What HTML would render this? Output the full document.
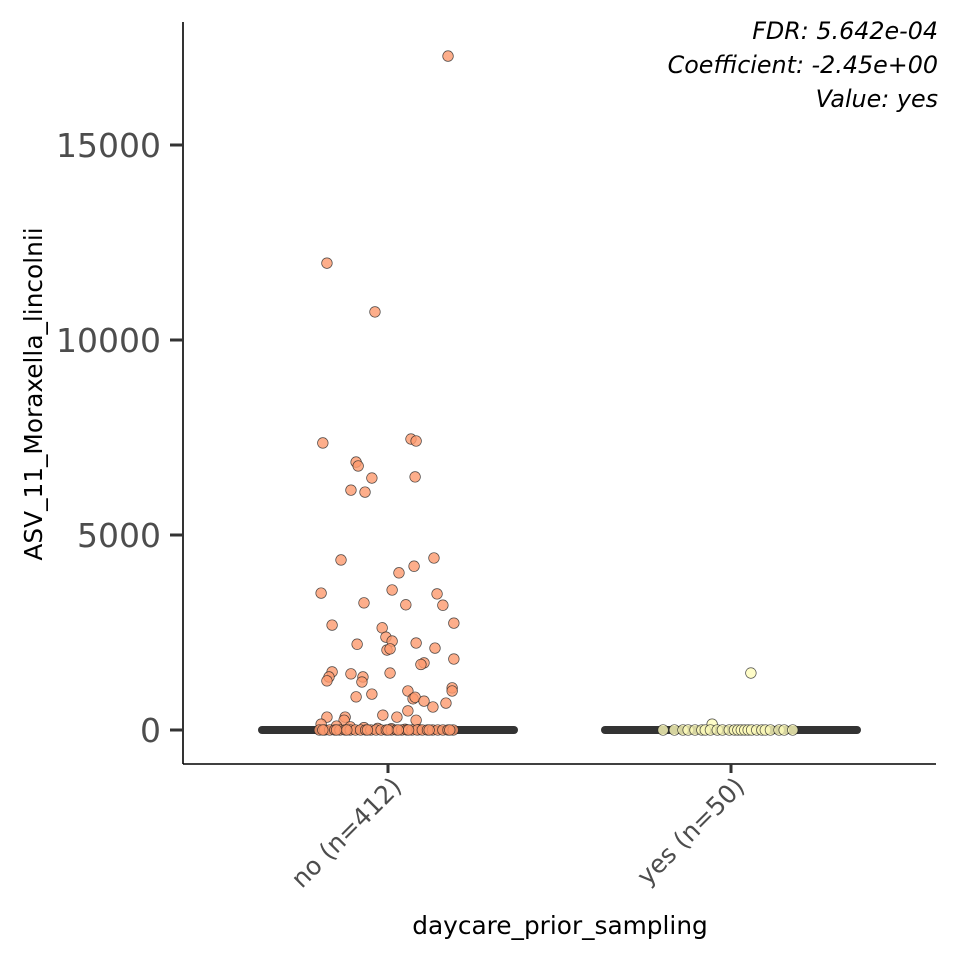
<!DOCTYPE html>
<html><head><meta charset="utf-8"><style>
body{margin:0;background:#fff}
svg text{font-family:"DejaVu Sans","Liberation Sans",sans-serif}
</style></head><body>
<svg id="c" width="960" height="960" xmlns="http://www.w3.org/2000/svg">
<rect width="960" height="960" fill="#fff"/>
<g id="marks"></g>
<line x1="183" y1="22" x2="183" y2="764" stroke="#000" stroke-width="1.6"/>
<line x1="183" y1="764" x2="936" y2="764" stroke="#000" stroke-width="1.6"/>
<g id="axes"></g>
<text x="0" y="0" transform="translate(42,394) rotate(-90)" text-anchor="middle" font-size="24.8" fill="#000">ASV_11_Moraxella_lincolnii</text>
<text x="560" y="934" text-anchor="middle" font-size="24.8" fill="#000">daycare_prior_sampling</text>
<text x="938" y="39" text-anchor="end" font-size="23.8" font-style="italic">FDR: 5.642e-04</text>
<text x="938" y="73" text-anchor="end" font-size="23.8" font-style="italic">Coefficient: -2.45e+00</text>
<text x="938" y="107" text-anchor="end" font-size="23.8" font-style="italic">Value: yes</text>
</svg>
<script>
const categories=["no (n=412)","yes (n=50)"];
const yTicks=[0,5000,10000,15000];
const medians=[0,0];
const noValues=[17280,11970,10720,7360,7460,7410,6870,6770,6460,6490,6150,6100,4360,4410,4030,4200,3510,3490,3260,3210,3200,3590,2690,2740,2620,2380,2200,2230,2280,2050,2080,2100,1720,1680,1820,1490,1360,1260,1360,1440,1230,1460,1000,1080,1000,920,850,800,840,740,590,690,330,330,380,330,490,250,250,
150,100,80,60,40,30,20,10,0,0,0,0,0,0,0,0,0,0,0,0,0,0,0,0,0,0,0,0,0,0,0,0,0,0,0,0,0,0,0,0,0,0,0,0];
const noJitter=[0.175,-0.178,-0.038,-0.19,0.067,0.082,-0.093,-0.087,-0.047,0.079,-0.108,-0.067,-0.137,0.134,0.032,0.076,-0.195,0.143,-0.07,0.052,0.16,0.012,-0.163,0.192,-0.017,-0.006,-0.09,0.082,0.012,-0.003,0.006,0.137,0.105,0.096,0.192,-0.163,-0.172,-0.178,-0.073,-0.108,-0.076,0.006,0.058,0.187,0.187,-0.047,-0.093,0.073,0.079,0.105,0.131,0.169,-0.178,-0.125,-0.015,0.026,0.058,-0.128,0.082,
-0.195,-0.15,-0.11,-0.07,-0.03,0.01,0.05,0.09,-0.2,-0.185,-0.17,-0.155,-0.14,-0.125,-0.11,-0.095,-0.08,-0.065,-0.05,-0.035,-0.02,-0.005,0.01,0.025,0.04,0.055,0.07,0.085,0.1,0.115,0.13,0.145,0.16,0.175,0.19,-0.19,-0.12,-0.06,0.0,0.06,0.12,0.18,-0.15,0.03,0.15];
const yesValues=[1460,150,0,0,0,0,0,0,0,0,0,0,0,0,0,0,0,0,0,0,0,0,0,0,0,0];
const yesJitter=[0.058,-0.055,-0.198,-0.165,-0.14,-0.125,-0.105,-0.085,-0.075,-0.06,-0.04,-0.025,-0.005,0.01,0.02,0.03,0.04,0.05,0.06,0.075,0.09,0.1,0.115,0.14,0.155,0.18];
const ns="http://www.w3.org/2000/svg";
const y=v=>730-v*0.039;
const xc=i=>388+i*343;
const xj=(i,j)=>xc(i)+j*343;
const marks=document.getElementById('marks'),axes=document.getElementById('axes');
function mk(t,a,p){const e=document.createElementNS(ns,t);for(const k in a)e.setAttribute(k,a[k]);p.appendChild(e);return e;}
categories.forEach((c,i)=>{
  const l=mk('line',{x1:xc(i)-126,x2:xc(i)+126,y1:y(medians[i]),y2:y(medians[i]),stroke:'#333','stroke-width':8,'stroke-linecap':'round'},marks);
  
  
  const t=mk('line',{x1:xc(i),x2:xc(i),y1:764,y2:773,stroke:'#333','stroke-width':3},axes);
  
  
  const tx=mk('text',{transform:`translate(${xc(i)+15},${788}) rotate(-45)`,'text-anchor':'end','font-size':25,fill:'#4d4d4d'},axes);
  tx.textContent=c;
  
  
});
function pts(vals,jit,i,fill){
  vals.forEach((v,k)=>{
    const p=mk('circle',{cx:xj(i,jit[k]),cy:y(v),r:5.3,fill:fill,'fill-opacity':0.8,stroke:'#222','stroke-width':0.7,'stroke-opacity':0.8},marks);
    
    
  });
}
pts(noValues,noJitter,0,'#fc9a6e');
pts(yesValues,yesJitter,1,'#fffcbc');
yTicks.forEach(t=>{
  const l=mk('line',{x1:170,x2:183,y1:y(t),y2:y(t),stroke:'#333','stroke-width':3},axes);
  
  
  const tx=mk('text',{x:161,y:y(t)+12,'text-anchor':'end','font-size':33,fill:'#4d4d4d'},axes);
  tx.textContent=t;
  
  
});
</script>
</body></html>
